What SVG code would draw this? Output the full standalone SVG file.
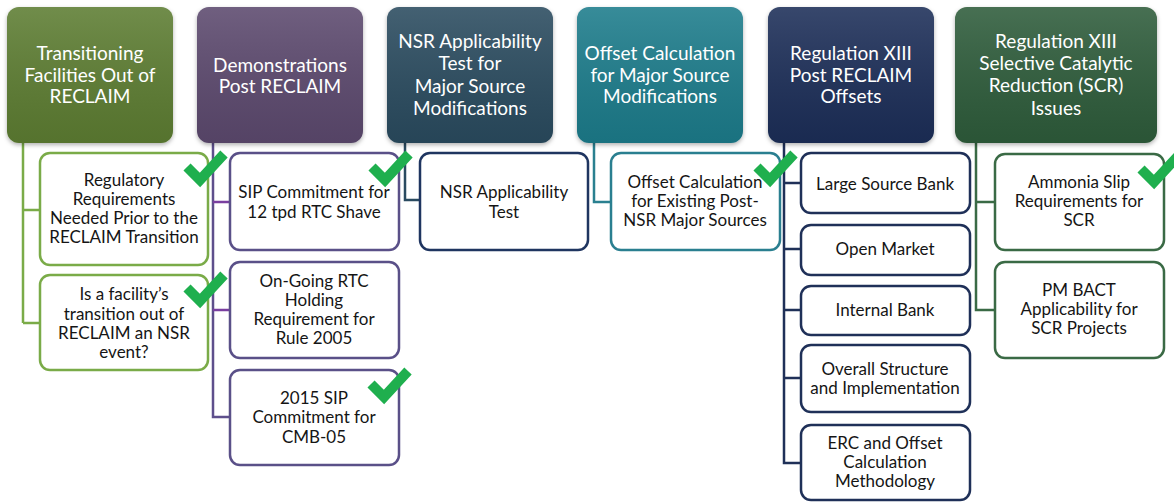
<svg xmlns="http://www.w3.org/2000/svg" xmlns:xlink="http://www.w3.org/1999/xlink" width="1174" height="502" viewBox="0 0 1174 502">
<defs>
<style>
.hd{font-family:Lato,"Open Sans","Liberation Sans",sans-serif;font-size:19px;fill:#ffffff;text-anchor:middle}
.tx{font-family:Lato,"Open Sans","Liberation Sans",sans-serif;font-size:17px;fill:#151515;text-anchor:middle}
.cb{fill:#ffffff;stroke-width:2.5}
.ln{fill:none;stroke-width:2.5}
.chk{fill:none;stroke:#1faf4e;stroke-width:10;stroke-linejoin:miter;stroke-linecap:butt}
</style>
<linearGradient id="sh" x1="0" y1="0" x2="0" y2="1">
<stop offset="0" stop-color="#ffffff" stop-opacity="0.12"/>
<stop offset="1" stop-color="#000000" stop-opacity="0.08"/>
</linearGradient>
<filter id="ds" x="-10%" y="-10%" width="120%" height="125%">
<feDropShadow dx="0" dy="2" stdDeviation="2" flood-color="#000" flood-opacity="0.3"/>
</filter>
<path id="ck" d="M4 18 L17 31 L41 5" class="chk"/>
</defs>
<rect width="1174" height="502" fill="#ffffff"/>
<g id="connectors">
<path class="ln" stroke="#7aab48" d="M23 143 V323 M23 210 H40 M23 323 H40"/>
<path class="ln" stroke="#5e4f8c" d="M213 143 V417 H230"/>
<path class="ln" stroke="#7a3fa0" d="M213 202 H230 M213 310 H230"/>
<path class="ln" stroke="#2a4a60" d="M405 143 V200 H420"/>
<path class="ln" stroke="#2a8090" d="M594 143 V202 H611"/>
<path class="ln" stroke="#1f3058" d="M784 143 V463 H801 M784 183 H801 M784 249 H801 M784 310 H801 M784 378 H801"/>
<path class="ln" stroke="#3a6a45" d="M976 143 V310 H995 M976 202 H995"/>
</g>
<g id="h1"><rect x="7" y="7" width="166" height="136" rx="12" fill="#5d7d33" filter="url(#ds)"/><rect x="7" y="7" width="166" height="136" rx="12" fill="url(#sh)"/>
<text class="hd" x="90" y="60">Transitioning</text><text class="hd" x="90" y="82">Facilities Out of</text><text class="hd" x="90" y="103">RECLAIM</text></g>
<g id="h2"><rect x="197" y="7" width="166" height="136" rx="12" fill="#5b4a6e" filter="url(#ds)"/><rect x="197" y="7" width="166" height="136" rx="12" fill="url(#sh)"/>
<text class="hd" x="280" y="72">Demonstrations</text><text class="hd" x="280" y="93">Post RECLAIM</text></g>
<g id="h3"><rect x="387" y="7" width="166" height="136" rx="12" fill="#2b4b5f" filter="url(#ds)"/><rect x="387" y="7" width="166" height="136" rx="12" fill="url(#sh)"/>
<text class="hd" x="470" y="48">NSR Applicability</text><text class="hd" x="470" y="70">Test for</text><text class="hd" x="470" y="93">Major Source</text><text class="hd" x="470" y="115">Modifications</text></g>
<g id="h4"><rect x="577" y="7" width="166" height="136" rx="12" fill="#1f7b8b" filter="url(#ds)"/><rect x="577" y="7" width="166" height="136" rx="12" fill="url(#sh)"/>
<text class="hd" x="660" y="60">Offset Calculation</text><text class="hd" x="660" y="82">for Major Source</text><text class="hd" x="660" y="103">Modifications</text></g>
<g id="h5"><rect x="768" y="7" width="166" height="136" rx="12" fill="#1c2f58" filter="url(#ds)"/><rect x="768" y="7" width="166" height="136" rx="12" fill="url(#sh)"/>
<text class="hd" x="851" y="60">Regulation XIII</text><text class="hd" x="851" y="82">Post RECLAIM</text><text class="hd" x="851" y="103">Offsets</text></g>
<g id="h6"><rect x="955" y="7" width="202" height="136" rx="12" fill="#2f5c3a" filter="url(#ds)"/><rect x="955" y="7" width="202" height="136" rx="12" fill="url(#sh)"/>
<text class="hd" x="1056" y="48">Regulation XIII</text><text class="hd" x="1056" y="70">Selective Catalytic</text><text class="hd" x="1056" y="92">Reduction (SCR)</text><text class="hd" x="1056" y="115">Issues</text></g>

<g id="n1a"><rect class="cb" x="40" y="153" width="168" height="112" rx="10" stroke="#7aab48"/>
<text class="tx" x="124" y="186">Regulatory</text><text class="tx" x="124" y="205">Requirements</text><text class="tx" x="124" y="224">Needed Prior to the</text><text class="tx" x="124" y="243">RECLAIM Transition</text></g>
<g id="n1b"><rect class="cb" x="40" y="275" width="168" height="95" rx="10" stroke="#7aab48"/>
<text class="tx" x="124" y="300">Is a facility’s</text><text class="tx" x="124" y="320">transition out of</text><text class="tx" x="124" y="339">RECLAIM an NSR</text><text class="tx" x="124" y="358">event?</text></g>
<g id="n2a"><rect class="cb" x="230" y="153" width="169" height="97" rx="10" stroke="#5a5088"/>
<text class="tx" x="314" y="198">SIP Commitment for</text><text class="tx" x="314" y="218">12 tpd RTC Shave</text></g>
<g id="n2b"><rect class="cb" x="230" y="262" width="169" height="96" rx="10" stroke="#5a5088"/>
<text class="tx" x="314" y="287">On-Going RTC</text><text class="tx" x="314" y="306">Holding</text><text class="tx" x="314" y="325">Requirement for</text><text class="tx" x="314" y="344">Rule 2005</text></g>
<g id="n2c"><rect class="cb" x="230" y="370" width="169" height="95" rx="10" stroke="#5a5088"/>
<text class="tx" x="314" y="404">2015 SIP</text><text class="tx" x="314" y="423">Commitment for</text><text class="tx" x="314" y="443">CMB-05</text></g>
<g id="n3a"><rect class="cb" x="420" y="153" width="168" height="97" rx="10" stroke="#1f3560"/>
<text class="tx" x="504" y="198">NSR Applicability</text><text class="tx" x="504" y="218">Test</text></g>
<g id="n4a"><rect class="cb" x="611" y="153" width="169" height="97" rx="10" stroke="#2a7f90"/>
<text class="tx" x="695" y="188">Offset Calculation</text><text class="tx" x="695" y="207">for Existing Post-</text><text class="tx" x="695" y="226">NSR Major Sources</text></g>
<g id="n5a"><rect class="cb" x="801" y="153" width="169" height="60" rx="10" stroke="#1f3058"/>
<text class="tx" x="885" y="190">Large Source Bank</text></g>
<g id="n5b"><rect class="cb" x="801" y="225" width="169" height="50" rx="10" stroke="#1f3058"/>
<text class="tx" x="885" y="255">Open Market</text></g>
<g id="n5c"><rect class="cb" x="801" y="286" width="169" height="49" rx="10" stroke="#1f3058"/>
<text class="tx" x="885" y="316">Internal Bank</text></g>
<g id="n5d"><rect class="cb" x="801" y="345" width="169" height="67" rx="10" stroke="#1f3058"/>
<text class="tx" x="885" y="375">Overall Structure</text><text class="tx" x="885" y="394">and Implementation</text></g>
<g id="n5e"><rect class="cb" x="801" y="425" width="169" height="75" rx="10" stroke="#1f3058"/>
<text class="tx" x="885" y="449">ERC and Offset</text><text class="tx" x="885" y="468">Calculation</text><text class="tx" x="885" y="487">Methodology</text></g>
<g id="n6a"><rect class="cb" x="995" y="154" width="169" height="96" rx="10" stroke="#3a6a45"/>
<text class="tx" x="1079" y="188">Ammonia Slip</text><text class="tx" x="1079" y="207">Requirements for</text><text class="tx" x="1079" y="226">SCR</text></g>
<g id="n6b"><rect class="cb" x="995" y="262" width="169" height="96" rx="10" stroke="#3a6a45"/>
<text class="tx" x="1079" y="296">PM BACT</text><text class="tx" x="1079" y="315">Applicability for</text><text class="tx" x="1079" y="334">SCR Projects</text></g>

<g id="checks">
<use xlink:href="#ck" x="183" y="149"/>
<use xlink:href="#ck" x="183" y="270"/>
<use xlink:href="#ck" x="368" y="149"/>
<use xlink:href="#ck" x="367" y="366"/>
<use xlink:href="#ck" x="753" y="149"/>
<use xlink:href="#ck" x="1137" y="151"/>
</g>
</svg>
